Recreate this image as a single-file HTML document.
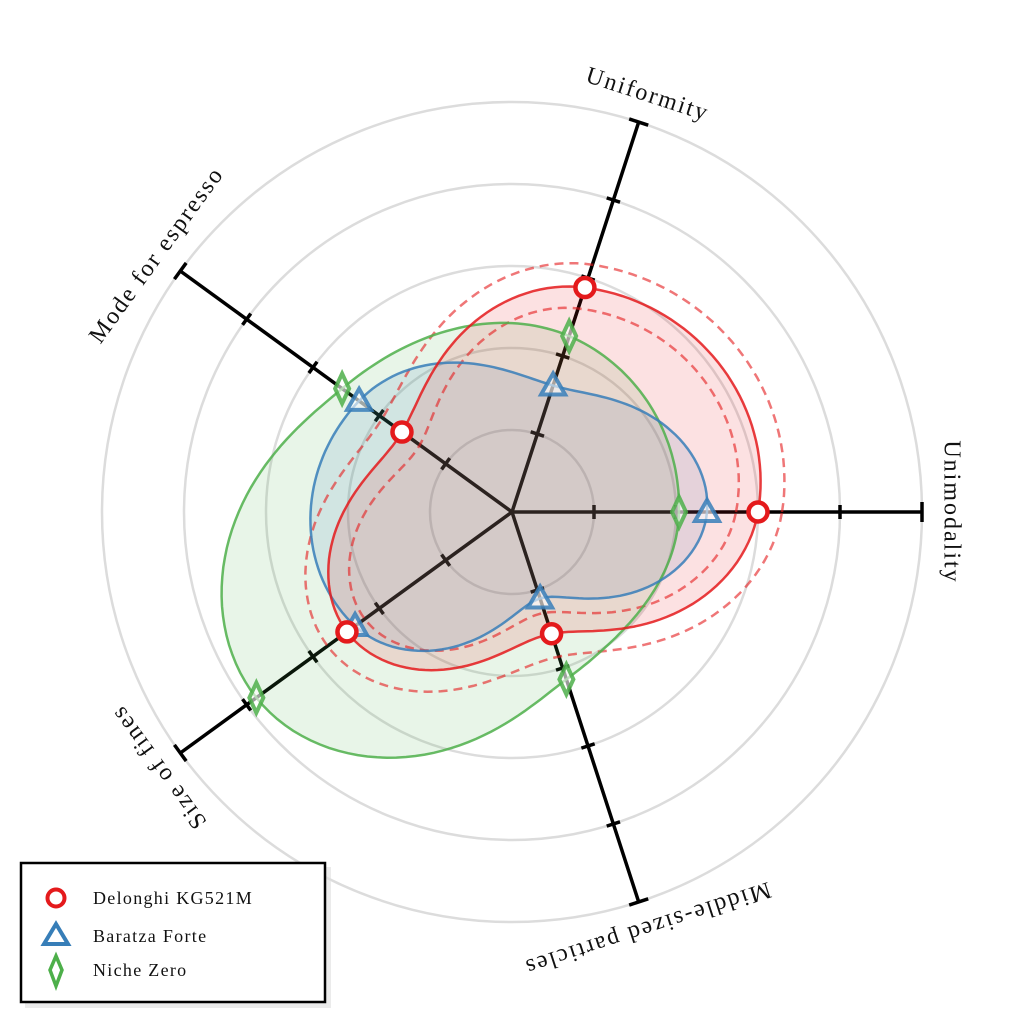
<!DOCTYPE html>
<html><head><meta charset="utf-8">
<style>
html,body{margin:0;padding:0;background:#fff;}
body{width:1024px;height:1024px;overflow:hidden;position:relative;}
svg{position:absolute;left:0;top:0;}
.lbl{font-family:"Liberation Serif",serif;font-size:24px;letter-spacing:2px;fill:#111;}
.leg{font-family:"Liberation Serif",serif;font-size:18px;letter-spacing:1.3px;fill:#111;}
</style></head><body>
<svg id="s" width="1024" height="1024" viewBox="0 0 1024 1024" xmlns="http://www.w3.org/2000/svg">
<g id="grid" fill="none" stroke="#dcdcdc" stroke-width="2.5">
<circle cx="512" cy="512" r="82"/><circle cx="512" cy="512" r="164"/><circle cx="512" cy="512" r="246"/><circle cx="512" cy="512" r="328"/><circle cx="512" cy="512" r="410"/>
</g>
<g id="axes" stroke="#000" stroke-width="3.5"></g>
<g id="data"></g>
<g id="labels">
<text class="lbl" text-anchor="middle" dominant-baseline="middle" transform="translate(950,512) rotate(90)">Unimodality</text>
<text class="lbl" text-anchor="middle" dominant-baseline="middle" transform="translate(647,96) rotate(18)">Uniformity</text>
<text class="lbl" text-anchor="middle" dominant-baseline="middle" transform="translate(158,256) rotate(-54)">Mode for espresso</text>
<text class="lbl" text-anchor="middle" dominant-baseline="middle" transform="translate(160,766) rotate(-126)">Size of fines</text>
<text class="lbl" text-anchor="middle" dominant-baseline="middle" transform="translate(647,927) rotate(162)">Middle-sized particles</text>
</g>
<rect x="25" y="867" width="306" height="141" fill="#ddd" opacity="0.6"/>
<rect x="21" y="863" width="304" height="139" fill="#fff" stroke="#000" stroke-width="2.5"/>
<circle cx="56" cy="898" r="8.5" fill="#fff" stroke="#e41a1c" stroke-width="4"/>
<polygon points="56,924 68,944 44,944" fill="#fff" stroke="#377eb8" stroke-width="4" stroke-linejoin="miter"/>
<polygon points="56,956 62,970 56,986 50,970" fill="#fff" stroke="#4daf4a" stroke-width="3.5"/>
<text class="leg" x="93" y="904">Delonghi KG521M</text>
<text class="leg" x="93" y="942">Baratza Forte</text>
<text class="leg" x="93" y="976">Niche Zero</text>
</svg>
<script>
var NS="http://www.w3.org/2000/svg",cx=512,cy=512;
function el(t,a,p){var e=document.createElementNS(NS,t);for(var k in a)e.setAttribute(k,a[k]);p.appendChild(e);return e;}
var angs=[0,72,144,216,288].map(function(d){return d*Math.PI/180;});
function P(r,a){return [cx+r*Math.cos(a),cy-r*Math.sin(a)];}
var ax=document.getElementById('axes');
angs.forEach(function(a){
 var e=P(410,a);el('line',{x1:cx,y1:cy,x2:e[0],y2:e[1]},ax);
 [82,164,246,328,410].forEach(function(r){
  var L=r==410?10:7;var p=P(r,a);var tx=-Math.sin(a),ty=-Math.cos(a);
  el('line',{x1:p[0]-tx*L,y1:p[1]-ty*L,x2:p[0]+tx*L,y2:p[1]+ty*L},ax);
 });
});
function curve(rs,off){
 var n=5,pts=[];
 for(var i=0;i<n;i++){
  var r0=rs[(i+n-1)%n],r1=rs[i],r2=rs[(i+1)%n],r3=rs[(i+2)%n];
  for(var k=0;k<40;k++){
   var t=k/40,t2=t*t,t3=t2*t;
   var r=0.5*((2*r1)+(-r0+r2)*t+(2*r0-5*r1+4*r2-r3)*t2+(-r0+3*r1-3*r2+r3)*t3)+off;
   var a=angs[i]+t*2*Math.PI/5;
   pts.push(P(r,a));
  }
 }
 return 'M'+pts.map(function(p){return p[0].toFixed(1)+','+p[1].toFixed(1);}).join('L')+'Z';
}
var d=document.getElementById('data');
var series=[
 {c:'#4daf4a',r:[167,185,210,316,176],m:'d'},
 {c:'#377eb8',r:[195,133,189,194,91],m:'t'},
 {c:'#e41a1c',r:[246,236,136,204,128],m:'c'}
];
series.forEach(function(s){el('path',{d:curve(s.r,0),fill:s.c,'fill-opacity':0.13,stroke:'none'},d);});
el('path',{d:curve(series[2].r,24),fill:'none',stroke:'#e41a1c','stroke-opacity':0.6,'stroke-width':2.5,'stroke-dasharray':'9,6'},d);
el('path',{d:curve(series[2].r,-22),fill:'none',stroke:'#e41a1c','stroke-opacity':0.6,'stroke-width':2.5,'stroke-dasharray':'9,6'},d);
series.forEach(function(s){el('path',{d:curve(s.r,0),fill:'none',stroke:s.c,'stroke-opacity':0.85,'stroke-width':2.5},d);});
series.forEach(function(s){
 s.r.forEach(function(r,i){
  var p=P(r,angs[i]),x=p[0],y=p[1];
  if(s.m=='c')el('circle',{cx:x,cy:y,r:9.5,fill:'#fff',stroke:s.c,'stroke-width':4.5},d);
  else if(s.m=='t')el('polygon',{points:x+','+(y-12)+' '+(x+12)+','+(y+9)+' '+(x-12)+','+(y+9),fill:'#fff','fill-opacity':0.6,stroke:s.c,'stroke-width':4,'stroke-opacity':0.85},d);
  else el('polygon',{points:x+','+(y-15)+' '+(x+7)+','+y+' '+x+','+(y+15)+' '+(x-7)+','+y,fill:'#fff','fill-opacity':0.6,stroke:s.c,'stroke-width':4,'stroke-opacity':0.85},d);
 });
});
</script>
</body></html>
